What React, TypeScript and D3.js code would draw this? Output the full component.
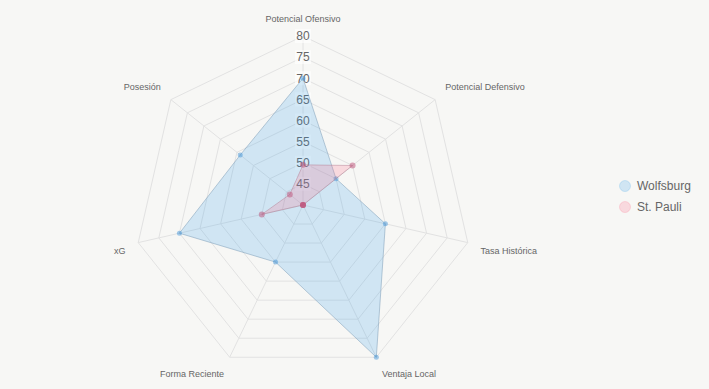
import React from 'react';
import * as d3 from 'd3';

const axes = [
  'Potencial Ofensivo',
  'Potencial Defensivo',
  'Tasa Histórica',
  'Ventaja Local',
  'Forma Reciente',
  'xG',
  'Posesión',
];
const wolfsburg = [70, 50, 60, 80, 55, 70, 59];
const stPauli = [49.5, 55, 40, 40, 40, 50, 44];
const ticks = [45, 50, 55, 60, 65, 70, 75, 80];
const seriesNames = ['Wolfsburg', 'St. Pauli'];

const W = 709;
const H = 389;
const cx = 303;
const cy = 205;
const R = 169;
const font = '"Liberation Sans", Arial, Helvetica, sans-serif';

const series = [
  { name: seriesNames[0], values: wolfsburg, fill: 'rgba(54,162,235,0.2)', stroke: 'rgba(130,160,185,0.55)', point: 'rgba(54,142,215,0.45)', pr: 2.5 },
  { name: seriesNames[1], values: stPauli, fill: 'rgba(255,99,132,0.2)', stroke: 'rgba(180,130,150,0.5)', point: 'rgba(190,80,120,0.5)', pr: 3 },
];

const App: React.FC = () => {
  const r = d3.scaleLinear().domain([40, 80]).range([0, R]);
  const angle = (i: number) => (i * 2 * Math.PI) / axes.length - Math.PI / 2;
  const pt = (i: number, v: number) => [cx + r(v) * Math.cos(angle(i)), cy + r(v) * Math.sin(angle(i))];
  const line = d3.line<number>()
    .x((v, i) => pt(i, v)[0])
    .y((v, i) => pt(i, v)[1])
    .curve(d3.curveLinearClosed);

  const labelR = R + 13;

  return (
    <div style={{ position: 'absolute', left: 0, top: 0 }}>
      <svg width={W} height={H} style={{ display: 'block', background: '#f7f7f5' }} fontFamily={font}>
        {/* grid rings */}
        {ticks.map(t => (
          <path key={t} d={line(axes.map(() => t)) || ''} fill="none" stroke="#e2e2e2" strokeWidth={1} />
        ))}
        {/* angle lines */}
        {axes.map((a, i) => {
          const [x, y] = pt(i, 80);
          return <line key={a} x1={cx} y1={cy} x2={x} y2={y} stroke="#e2e2e2" strokeWidth={1} />;
        })}
        {/* tick labels */}
        {ticks.map(t => (
          <g key={'t' + t}>
            <rect x={cx - 8} y={cy - r(t) - 7} width={16} height={14} fill="rgba(255,255,255,0.6)" />
            <text x={cx} y={cy - r(t)} dy="0.36em" textAnchor="middle" fontSize={12} fill="#666">{t}</text>
          </g>
        ))}
        {/* point labels */}
        {axes.map((a, i) => {
          const ang = angle(i);
          const x = cx + labelR * Math.cos(ang);
          const y = cy + labelR * Math.sin(ang);
          const c = Math.cos(ang);
          const anchor = Math.abs(c) < 0.01 ? 'middle' : c > 0 ? 'start' : 'end';
          const top = Math.sin(ang) < 0;
          return (
            <text key={a} x={x} y={y} dy={top ? '-0.12em' : '0.9em'} textAnchor={anchor} fontSize={9} fill="#666">{a}</text>
          );
        })}
        {/* datasets */}
        {series.map(s => (
          <g key={s.name}>
            <path d={line(s.values) || ''} fill={s.fill} stroke={s.stroke} strokeWidth={1} />
            {s.values.map((v, i) => {
              const [x, y] = pt(i, v);
              return <circle key={i} cx={x} cy={y} r={s.pr} fill={s.point} />;
            })}
          </g>
        ))}
        {/* legend */}
        {series.map((s, i) => (
          <g key={'l' + s.name} transform={`translate(625,${186 + i * 21})`}>
            <circle r={5.5} fill={s.fill} stroke={s.fill} strokeWidth={1} />
            <text x={12} dy="0.36em" fontSize={12} fill="#666">{s.name}</text>
          </g>
        ))}
      </svg>
    </div>
  );
};

export default App;
